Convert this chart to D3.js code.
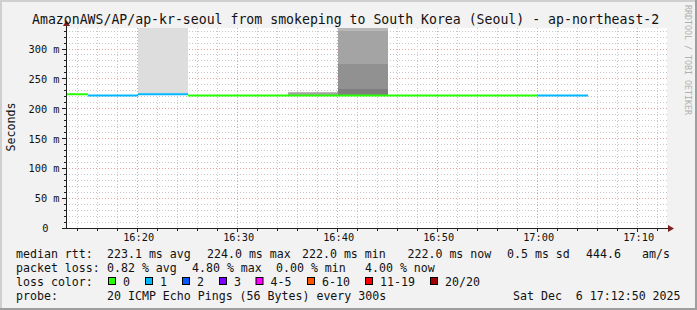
<!DOCTYPE html>
<html>
<head>
<meta charset="utf-8">
<script src="https://cdn.jsdelivr.net/npm/d3@7"></script>
<style>
  body { margin: 0; background: #f2f2f2; }
  text { font-family: "DejaVu Sans Mono", monospace; fill: #111; }
</style>
</head>
<body>
<div id="chart"></div>
<script>
// 5 minute slots (start time), median rtt in ms and lost pings out of 20
const slotStart = ["16:10", "16:15", "16:20", "16:25", "16:30", "16:35", "16:40", "16:45", "16:50", "16:55", "17:00"];
const medianMs = [224, 222, 224, 222, 222, 222, 222, 222, 222, 222, 222];
const lostPings = [0, 1, 1, 0, 0, 0, 0, 0, 0, 0, 1];

// smoke: upper edge of each of the 10 ping bands (outer -> inner) for slots that have spread
const smokeSlots = ["16:20", "16:35", "16:40"];
const smokeUpper = [
  [410, 224, 224, 224, 224, 224, 224, 224, 224, 224],
  [228.4, 228.4, 228.4, 226.3, 222, 222, 222, 222, 222, 222],
  [420, 380, 345, 329.6, 274.8, 233, 223.5, 223, 222.5, 222]
];

const yTicks = [0, 50, 100, 150, 200, 250, 300];
const lossLabels = ["0", "1", "2", "3", "4-5", "6-10", "11-19", "20/20"];
const lossColors = ["#26ff00", "#00b8ff", "#0059ff", "#7e00ff", "#ff00ff", "#ff5500", "#ff0000", "#a00000"];

const W = 697, H = 310;
const parseT = d3.timeParse("%H:%M:%S");
const t0 = parseT("16:12:50"), t1 = parseT("17:12:50");
const slotT = slotStart.map(s => parseT(s + ":00"));

const x = d3.scaleTime().domain([t0, t1]).range([66, 666]);
const y = d3.scaleLinear().domain([0, 335.2]).range([228, 28]);

const svg = d3.select("#chart").append("svg")
  .attr("width", W).attr("height", H);

// frame
svg.append("rect").attr("width", W).attr("height", H).attr("fill", "#f2f2f2");
svg.append("path").attr("d", `M0,${H} V0 H${W}`).attr("stroke", "#cfcfcf").attr("stroke-width", 4).attr("fill", "none");
svg.append("path").attr("d", `M0,${H} H${W} V0`).attr("stroke", "#9e9e9e").attr("stroke-width", 4).attr("fill", "none");

// canvas
svg.append("rect").attr("x", 66).attr("y", 28).attr("width", 601).attr("height", 200).attr("fill", "#fff");

svg.append("clipPath").attr("id", "plot")
  .append("rect").attr("x", 66).attr("y", 28).attr("width", 601).attr("height", 200);

const px = v => Math.floor(v) + 0.5;

// grid
const grid = svg.append("g").attr("shape-rendering", "crispEdges");
d3.range(0, 336, 10).forEach(v => {
  const major = v % 50 === 0;
  if (v === 0) return;
  grid.append("line")
    .attr("x1", 66).attr("x2", 667).attr("y1", px(y(v))).attr("y2", px(y(v)))
    .attr("stroke", major ? "#e6a0a0" : "#c8c8c8")
    .attr("stroke-dasharray", "1,2");
});
d3.timeMinute.every(2).range(d3.timeMinute.offset(t0, 1), t1).forEach(t => {
  const major = t.getMinutes() % 10 === 0;
  grid.append("line")
    .attr("x1", px(x(t))).attr("x2", px(x(t))).attr("y1", 28).attr("y2", 228)
    .attr("stroke", major ? "#e6a0a0" : "#c8c8c8")
    .attr("stroke-dasharray", "1,2");
});

// smoke
const grey = i => { const g = Math.round(190 / 10 * (10 - i)) + 50; return d3.rgb(g, g, g); };
const smoke = svg.append("g").attr("clip-path", "url(#plot)").attr("shape-rendering", "crispEdges");
smokeSlots.forEach((s, k) => {
  const i = slotStart.indexOf(s);
  const xa = Math.round(x(slotT[i])), xb = Math.round(x(d3.timeMinute.offset(slotT[i], 5)));
  smokeUpper[k].forEach((top, b) => {
    const lo = medianMs[i];
    if (top <= lo) return;
    smoke.append("rect")
      .attr("x", xa).attr("width", xb - xa)
      .attr("y", Math.round(y(top))).attr("height", Math.round(y(lo)) - Math.round(y(top)))
      .attr("fill", grey(b + 1));
  });
});

// median line coloured by loss
const lossIndex = n => n <= 3 ? n : n <= 5 ? 4 : n <= 10 ? 5 : n <= 19 ? 6 : 7;
const med = svg.append("g").attr("clip-path", "url(#plot)");
slotT.forEach((t, i) => {
  med.append("line")
    .attr("x1", Math.round(x(t))).attr("x2", Math.round(x(d3.timeMinute.offset(t, 5))))
    .attr("y1", y(medianMs[i])).attr("y2", y(medianMs[i]))
    .attr("stroke", lossColors[lossIndex(lostPings[i])])
    .attr("stroke-width", 2);
});

// axes
const ax = svg.append("g").attr("shape-rendering", "crispEdges");
ax.append("line").attr("x1", 66.5).attr("x2", 66.5).attr("y1", 228).attr("y2", 24).attr("stroke", "#1f1f1f");
ax.append("line").attr("x1", 62).attr("x2", 670).attr("y1", 228.5).attr("y2", 228.5).attr("stroke", "#1f1f1f");
svg.append("path").attr("d", "M63,26 L66.5,20 L70,26 Z").attr("fill", "#801f1f");
svg.append("path").attr("d", "M668,225 L674,228.5 L668,232 Z").attr("fill", "#801f1f");

d3.range(0, 336, 10).forEach(v => {
  const major = v % 50 === 0;
  ax.append("line").attr("x1", major ? 62 : 64).attr("x2", 66)
    .attr("y1", px(y(v))).attr("y2", px(y(v))).attr("stroke", "#1f1f1f");
});
d3.timeMinute.every(2).range(d3.timeMinute.offset(t0, 1), t1).forEach(t => {
  const major = t.getMinutes() % 10 === 0;
  ax.append("line").attr("x1", px(x(t))).attr("x2", px(x(t)))
    .attr("y1", 229).attr("y2", major ? 232 : 231).attr("stroke", "#1f1f1f");
});

// tick labels
svg.append("g").selectAll("text").data(yTicks).join("text")
  .attr("x", d => d === 0 ? 48.5 : 59.5)
  .attr("y", d => y(d) + 4)
  .attr("text-anchor", "end")
  .style("font-size", "10.3px")
  .text(d => d === 0 ? "0" : d + " m");

svg.append("g").selectAll("text").data(d3.timeMinute.every(10).range(t0, t1)).join("text")
  .attr("x", d => x(d) + 1)
  .attr("y", 241)
  .attr("text-anchor", "middle")
  .style("font-size", "10.3px")
  .text(d3.timeFormat("%H:%M"));

// title, unit, watermark
svg.append("text").attr("x", 32).attr("y", 24).style("font-size", "13.2px")
  .text("AmazonAWS/AP/ap-kr-seoul from smokeping to South Korea (Seoul) - ap-northeast-2");
svg.append("text").attr("transform", "translate(15,127) rotate(-90)")
  .attr("text-anchor", "middle").style("font-size", "11.6px").text("Seconds");
svg.append("text").attr("transform", "translate(684.5,5) rotate(90)")
  .style("font-size", "8.3px").style("fill", "#b0b0b0").text("RRDTOOL / TOBI OETIKER");

// legend
const leg = (tx, lx, ly) => svg.append("text").attr("x", lx).attr("y", ly).style("font-size", "11.6px").text(tx);
leg("median rtt:", 16, 257.5);
leg("223.1 ms avg", 107, 257.5);
leg("224.0 ms max", 207, 257.5);
leg("222.0 ms min", 302, 257.5);
leg("222.0 ms now", 407.5, 257.5);
leg("0.5 ms sd", 507, 257.5);
leg("444.6", 586, 257.5);
leg("am/s", 642, 257.5);

leg("packet loss:", 16, 271.5);
leg("0.82 % avg", 107, 271.5);
leg("4.80 % max", 192, 271.5);
leg("0.00 % min", 276, 271.5);
leg("4.00 % now", 365, 271.5);

leg("loss color:", 16, 285.5);
const boxX = [108.5, 145.5, 182.5, 219.5, 256, 307.5, 365.5, 430.5];
lossLabels.forEach((l, i) => {
  svg.append("rect").attr("x", boxX[i]).attr("y", 277.5).attr("width", 7).attr("height", 7)
    .attr("fill", lossColors[i]).attr("stroke", "#000");
  leg(l, boxX[i] + 14.5, 285.5);
});

leg("probe:", 16, 299.5);
leg("20 ICMP Echo Pings (56 Bytes) every 300s", 107, 299.5);
leg("Sat Dec  6 17:12:50 2025", 513, 299.5).attr("xml:space", "preserve").style("white-space", "pre");
</script>
</body>
</html>
